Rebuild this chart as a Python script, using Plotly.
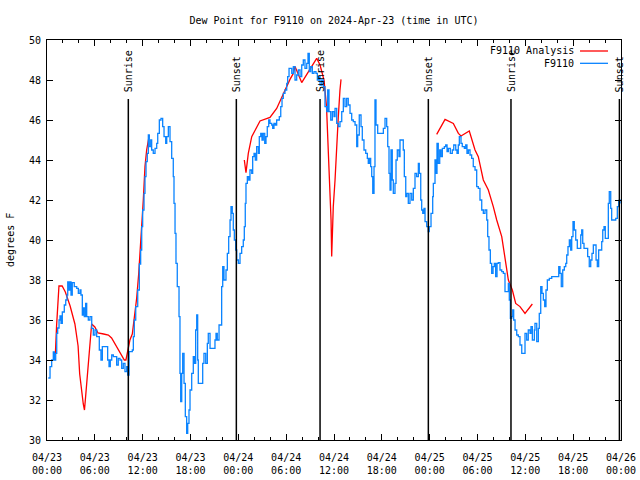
import pandas as pd
import plotly.graph_objects as go

BASE = pd.Timestamp("2024-04-23 00:00")

# hours since 2024-04-23 00:00 UTC
red_h = [0.88, 1.05, 1.2, 1.35, 1.5, 1.9, 2.3, 2.9, 3.5, 3.9, 4.1, 4.55, 4.7, 4.85, 5.05, 5.2, 5.4, 5.6,
         6.0, 6.4, 7.1, 7.7, 8.1, 8.75, 9.3, 9.7, 9.9, 10.15, 10.4, 10.7, 10.95, 11.25, 11.5, 11.67,
         11.88, 12.08, 12.29, 12.5, 12.83,
         None,
         24.75, 24.96, 25.25, 25.68, 26.72, 27.97, 28.81, 29.64, 30.48, 30.9, 31.11, 31.95, 32.78,
         33.83, 34.25, 34.75, 35.06, 35.29, 35.5, 35.63, 35.71, 35.91, 36.13, 36.34, 36.54, 36.75, 36.88,
         None,
         48.88, 49.93, 50.97, 51.6, 51.93, 52.97, 53.69, 54.1, 54.73, 55.36, 55.98, 56.41, 57.04,
         57.45, 57.87, 58.37, 58.79, 59.33, 59.96, 60.88]
red_v = [34.2, 34.3, 35.7, 36.6, 37.7, 37.7, 37.4, 36.7, 35.8, 34.7, 33.3, 31.8, 31.5, 32.2, 33.2, 34.2, 35.2, 35.8,
         35.65, 35.35, 35.3, 35.25, 35.1, 34.67, 34.33, 34.0, 34.0, 34.5, 35.0, 35.3, 36.0, 37.1, 38.3, 39.3,
         40.3, 42.0, 43.67, 44.5, 45.25,
         None,
         44.0, 43.37, 44.33, 45.17, 45.95, 46.13, 46.58, 47.33, 48.03, 48.33, 48.67, 47.87, 48.42,
         49.08, 48.75, 48.0, 46.67, 44.67, 42.33, 41.0, 39.17, 41.67, 43.0, 45.0, 46.17, 47.5, 48.03,
         None,
         45.28, 46.03, 45.83, 45.33, 45.2, 45.45, 44.5, 44.17, 43.0, 42.5, 41.67, 41.0, 40.17,
         39.17, 38.0, 37.5, 36.83, 36.67, 36.33, 36.8]

blue_h = [0.16, 0.38, 0.59, 0.79, 0.92, 1.09, 1.22, 1.34, 1.51, 1.63, 1.76, 1.92, 2.17, 2.35, 2.51, 2.60, 2.76,
          2.89, 3.01, 3.17, 3.42, 3.73, 3.93, 4.14, 4.26, 4.43, 4.55, 4.68, 4.85, 4.98, 5.18, 5.39, 5.61, 5.81,
          6.02, 6.23, 6.44, 6.56, 6.77, 6.94, 7.19, 7.49, 7.61, 7.78, 7.94, 8.12, 8.32, 8.53, 8.74, 8.94, 9.16,
          9.37, 9.57, 9.78, 10.0, 10.12, 10.29, 10.54, 10.70, 10.83, 10.95, 11.13, 11.38, 11.58, 11.75, 11.88,
          12.0, 12.17, 12.29, 12.42, 12.58, 12.71, 12.83, 13.01, 13.13, 13.33, 13.55, 13.76, 13.89, 14.09,
          14.30, 14.51, 14.68, 14.89, 15.02, 15.22, 15.43, 15.64, 15.84, 15.93, 16.06, 16.18, 16.34, 16.56,
          16.68, 16.77, 16.90, 17.02, 17.19, 17.35, 17.52, 17.65, 17.81, 17.94, 18.15, 18.35, 18.48, 18.65,
          18.78, 18.90, 18.98, 19.41, 19.53, 19.69, 19.91, 20.11, 20.23, 20.45, 20.86, 21.07, 21.20, 21.36,
          21.58, 21.91, 22.04, 22.20, 22.45, 22.62, 22.79, 22.96, 23.08, 23.24, 23.37, 23.50, 23.67, 23.80,
          24.0, 24.21, 24.42, 24.62, 24.75, 24.87, 24.96, 25.13, 25.30, 25.46, 25.68, 25.80, 25.97, 26.13,
          26.30, 26.51, 26.63, 26.81, 26.97, 27.13, 27.31, 27.47, 27.63, 27.81, 27.97, 28.19, 28.31, 28.47,
          28.64, 28.81, 29.01, 29.14, 29.32, 29.48, 29.64, 29.85, 30.07, 30.19, 30.36, 30.57, 30.70, 30.90,
          31.11, 31.32, 31.52, 31.74, 31.95, 32.15, 32.36, 32.58, 32.74, 32.90, 33.08, 33.28, 33.49, 33.74,
          33.91, 34.08, 34.25, 34.46, 34.66, 34.87, 35.09, 35.21, 35.37, 35.59, 35.79, 36.0, 36.13, 36.34,
          36.54, 36.75, 36.97, 37.17, 37.38, 37.59, 37.79, 38.01, 38.22, 38.42, 38.64, 38.85, 38.97, 39.17,
          39.39, 39.55, 39.76, 39.98, 40.18, 40.30, 40.43, 40.60, 40.73, 40.86, 41.02, 41.14, 41.27, 41.48,
          41.77, 41.98, 42.19, 42.40, 42.61, 42.74, 42.90, 43.03, 43.15, 43.31, 43.44, 43.65, 43.78, 43.94,
          44.15, 44.28, 44.49, 44.69, 44.82, 45.0, 45.12, 45.32, 45.53, 45.75, 45.95, 46.16, 46.37, 46.58,
          46.70, 46.88, 47.0, 47.13, 47.29, 47.42, 47.63, 47.83, 47.95, 48.17, 48.38, 48.46, 48.67, 48.80,
          48.92, 49.08, 49.26, 49.42, 49.59, 49.84, 50.01, 50.18, 50.34, 50.59, 50.84, 51.02, 51.27, 51.43,
          51.59, 51.72, 51.93, 52.09, 52.35, 52.52, 52.68, 52.85, 53.06, 53.27, 53.47, 53.69, 53.90, 54.10,
          54.31, 54.53, 54.73, 54.94, 55.16, 55.28, 55.44, 55.61, 55.78, 55.95, 56.11, 56.28, 56.45, 56.61,
          56.82, 57.04, 57.24, 57.45, 57.66, 57.87, 57.99, 58.12, 58.29, 58.42, 58.54, 58.71, 58.92, 59.12,
          59.33, 59.55, 59.75, 59.96, 60.17, 60.37, 60.59, 60.71, 60.88, 61.13, 61.21, 61.43, 61.63, 61.75,
          61.93, 62.09, 62.26, 62.43, 62.59, 62.76, 63.01, 63.31, 63.60, 63.94, 64.19, 64.35, 64.51, 64.69,
          64.89, 65.07, 65.19, 65.35, 65.52, 65.69, 65.82, 65.98, 66.14, 66.32, 66.52, 66.77, 66.95, 67.07,
          67.20, 67.36, 67.61, 67.82, 68.02, 68.20, 68.36, 68.53, 68.70, 68.87, 69.03, 69.20, 69.37, 69.58,
          69.71, 69.87, 70.03, 70.25, 70.41, 70.53, 70.71, 70.83, 71.12, 71.34, 71.54, 71.71, 71.79, 71.88]
blue_v = [33.1, 33.67, 34.0, 34.4, 34.0, 34.33, 35.33, 35.6, 36.0, 36.2, 35.83, 36.4, 36.75, 37.0, 37.25, 37.9, 37.5,
          37.9, 37.25, 37.87, 37.67, 37.58, 37.33, 37.5, 37.25, 36.25, 36.6, 36.17, 36.83, 36.17, 36.0, 36.17, 35.58, 35.25,
          35.5, 35.17, 35.17, 34.5, 34.0, 34.67, 34.67, 34.67, 34.0, 33.67, 34.0, 34.25, 34.17, 34.17, 33.75, 34.08, 34.0,
          33.58, 33.83, 33.42, 33.67, 33.25, 34.42, 34.42, 34.5, 35.17, 36.0, 36.67, 37.5, 38.8, 39.5, 40.67,
          41.5, 42.33, 43.17, 43.92, 44.33, 45.25, 44.67, 45.0, 44.5, 44.33, 44.58, 44.83, 45.33, 46.0,
          46.08, 45.67, 45.17, 44.83, 45.17, 45.67, 44.92, 44.08, 43.17, 41.83, 40.33, 38.83, 37.67, 36.17,
          33.33, 31.92, 33.33, 34.33, 32.83, 31.17, 30.33, 30.83, 31.5, 32.5, 33.33, 34.17, 33.83, 35.5,
          36.25, 34.0, 32.83, 32.83, 33.83, 34.33, 33.83, 34.83, 35.33, 34.58, 34.58, 35.0, 35.33, 35.0,
          35.75, 37.67, 38.67, 38.0, 38.5, 39.33, 40.17, 41.0, 41.67, 41.33, 40.5, 40.0, 39.5, 39.0,
          38.83, 39.33, 39.67, 40.0, 40.67, 41.83, 42.83, 43.17, 43.0, 43.5, 43.33, 44.17, 44.33, 44.0,
          44.67, 44.33, 45.17, 45.33, 45.0, 45.33, 44.83, 45.17, 45.67, 46.0, 45.83, 45.75, 45.58, 45.83,
          45.75, 46.0, 46.0, 46.17, 46.67, 47.08, 47.33, 47.5, 47.83, 48.17, 48.58, 48.58, 48.33, 48.67,
          48.0, 48.25, 48.5, 48.17, 48.75, 49.0, 48.58, 48.83, 49.33, 48.42, 48.67, 48.33, 48.42, 48.33,
          48.0, 48.17, 47.75, 48.0, 47.67, 46.67, 46.42, 47.5, 46.42, 46.0, 46.42, 46.17, 46.58, 45.83,
          45.67, 45.92, 46.42, 47.08, 46.67, 47.08, 46.75, 46.33, 46.0, 45.92, 45.75, 44.67, 45.25, 46.25,
          45.67, 45.0, 44.5, 44.33, 44.08, 43.83, 44.08, 43.67, 43.17, 42.33, 43.67, 47.0, 45.75, 45.33,
          45.33, 45.33, 45.58, 46.08, 45.67, 44.67, 43.33, 42.5, 44.5, 43.0, 42.33, 42.83, 44.0, 44.5,
          44.17, 45.0, 45.0, 44.5, 43.17, 42.17, 42.33, 41.83, 42.33, 42.0, 42.58, 43.33, 43.17, 43.83,
          43.33, 42.0, 41.5, 41.33, 41.58, 40.92, 40.67, 40.42, 40.67, 41.33, 42.17, 42.83, 44.0, 43.33,
          44.83, 43.83, 44.5, 44.17, 44.58, 44.67, 44.75, 44.42, 44.58, 44.33, 44.5, 44.75, 44.5, 44.33,
          44.75, 45.17, 44.83, 44.67, 44.58, 44.75, 44.33, 44.5, 44.25, 44.08, 43.67, 43.5, 42.67, 42.58,
          42.0, 41.5, 41.33, 41.5, 41.0, 40.17, 39.5, 38.83, 38.33, 38.67, 38.83, 38.17, 38.83, 38.87,
          38.5, 38.42, 38.33, 37.42, 37.42, 37.83, 37.0, 36.08, 36.17, 36.5, 36.0, 35.5, 35.25, 35.17,
          34.75, 34.33, 34.33, 35.33, 35.0, 35.5, 35.33, 35.67, 35.0, 35.5, 35.83, 34.92, 35.58, 36.33,
          37.67, 37.33, 37.0, 36.67, 37.5, 38.0, 38.08, 38.17, 38.17, 38.17, 38.67, 38.33, 37.67, 38.5,
          38.67, 38.83, 39.25, 39.67, 40.0, 39.5, 40.17, 40.92, 40.5, 40.0, 39.58, 39.58, 40.25, 40.5,
          39.83, 39.58, 39.58, 39.17, 38.67, 39.0, 39.33, 39.75, 39.75, 39.0, 38.67, 39.5, 39.5, 39.92,
          40.5, 40.67, 40.08, 40.08, 41.83, 42.42, 41.58, 41.0, 41.0, 41.08, 41.67, 41.92, 42.0, 41.83]

event_labels = ["Sunrise", "Sunset", "Sunrise", "Sunset", "Sunrise", "Sunset"]
event_times = ["2024-04-23 10:12", "2024-04-23 23:45", "2024-04-24 10:15",
               "2024-04-24 23:50", "2024-04-25 10:12", "2024-04-25 23:48"]

y_ticks = [30, 32, 34, 36, 38, 40, 42, 44, 46, 48, 50]


def to_time(hours):
    return [None if h is None else BASE + pd.Timedelta(hours=h) for h in hours]


FONT = "DejaVu Sans Mono"
RED = "#ff0000"
BLUE = "#0a84ff"

fig = go.Figure()
fig.add_trace(go.Scatter(x=to_time(red_h), y=red_v, mode="lines", name="F9110 Analysis",
                         line=dict(color=RED, width=1.3), connectgaps=False, hoverinfo="skip"))
fig.add_trace(go.Scatter(x=to_time(blue_h), y=blue_v, mode="lines", name="F9110",
                         line=dict(color=BLUE, width=1.3, shape="hv"), hoverinfo="skip"))

shapes = []
annotations = []
for lab, t in zip(event_labels, event_times):
    shapes.append(dict(type="line", xref="x", yref="y", x0=t, x1=t, y0=30, y1=47.05,
                       line=dict(color="black", width=1.5)))
    annotations.append(dict(xref="x", yref="y", x=t, y=47.3, text=lab, textangle=-90,
                            showarrow=False, xanchor="center", yanchor="bottom",
                            font=dict(family=FONT, size=10, color="black")))

# legend (gnuplot style: text then line sample)
leg = [("F9110 Analysis", RED, 0.9725), ("F9110", BLUE, 0.9417)]
for txt, col, yp in leg:
    annotations.append(dict(xref="paper", yref="paper", x=0.921, y=yp, text=txt, showarrow=False,
                            xanchor="right", yanchor="middle",
                            font=dict(family=FONT, size=10, color="black")))
    shapes.append(dict(type="line", xref="paper", yref="paper", x0=0.9286, x1=0.9774, y0=yp, y1=yp,
                       line=dict(color=col, width=1.3)))

annotations.append(dict(xref="paper", yref="paper", x=-0.0645, y=0.5, text="degrees F", textangle=-90,
                        showarrow=False, xanchor="center", yanchor="middle",
                        font=dict(family=FONT, size=10, color="black")))

fig.update_layout(
    width=640, height=480,
    margin=dict(l=47, r=19, t=40, b=40, autoexpand=False),
    paper_bgcolor="white", plot_bgcolor="white",
    showlegend=False, hovermode=False,
    font=dict(family=FONT, size=10, color="black"),
    title=dict(text="Dew Point for F9110 on 2024-Apr-23 (time in UTC)", x=0.5, xref="paper",
               y=1 - 20 / 480, yref="container", xanchor="center", yanchor="middle",
               font=dict(family=FONT, size=10, color="black")),
    shapes=shapes, annotations=annotations,
)
fig.update_xaxes(
    type="date", range=["2024-04-23 00:00", "2024-04-26 00:00"], automargin=False,
    tick0="2024-04-23 00:00", dtick=6 * 3600 * 1000, tickformat="%m/%d<br>%H:%M",
    ticks="inside", ticklen=6, tickcolor="black", tickwidth=1, ticklabelstandoff=8,
    minor=dict(dtick=2 * 3600 * 1000, tick0="2024-04-23 00:00", ticks="inside", ticklen=3,
               tickcolor="black", showgrid=False),
    showline=True, linecolor="black", linewidth=1, mirror="ticks",
    showgrid=False, zeroline=False, tickfont=dict(family=FONT, size=10, color="black"),
)
fig.update_yaxes(
    range=[30, 50], tickvals=y_ticks, ticks="inside", ticklen=6, tickcolor="black", tickwidth=1,
    ticklabelstandoff=3, automargin=False,
    showline=True, linecolor="black", linewidth=1, mirror="ticks",
    showgrid=False, zeroline=False, tickfont=dict(family=FONT, size=10, color="black"),
)

fig.write_html("out.html", config={"displayModeBar": False},
               post_script="document.body.style.margin='0';document.body.style.overflow='hidden';")
